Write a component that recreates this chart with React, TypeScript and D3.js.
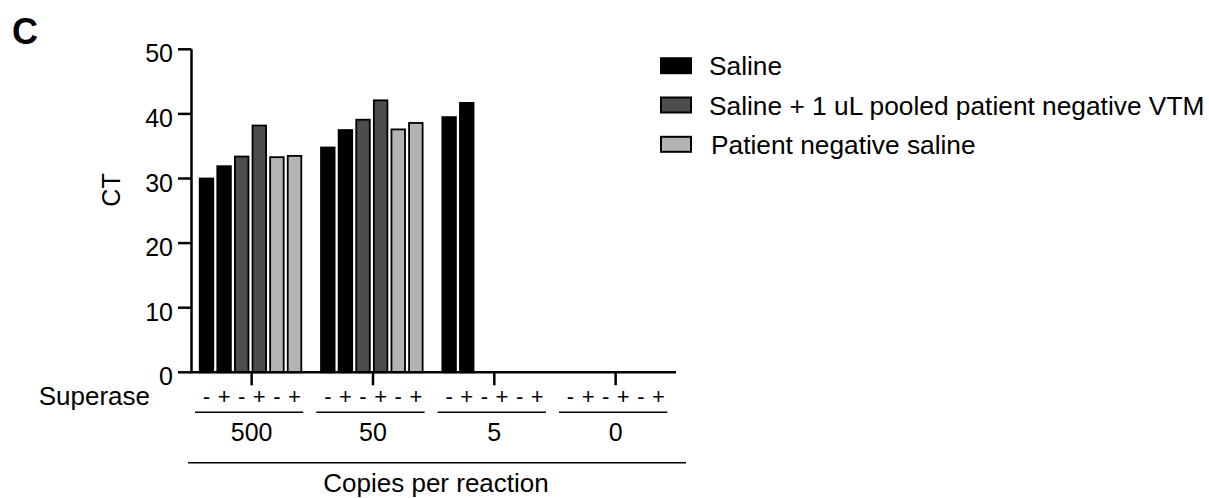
import React from "react";
import * as d3 from "d3";

const categories = ["500", "50", "5", "0"];
const superaseLabels = ["-", "+", "-", "+", "-", "+"];
const salineMinus: (number | null)[] = [30.0, 34.8, 39.5, null];
const salinePlus: (number | null)[] = [31.9, 37.5, 41.7, null];
const vtmMinus: (number | null)[] = [33.4, 39.1, null, null];
const vtmPlus: (number | null)[] = [38.2, 42.1, null, null];
const patMinus: (number | null)[] = [33.3, 37.6, null, null];
const patPlus: (number | null)[] = [33.5, 38.6, null, null];
const seriesNames = ["Saline", "Saline + 1 uL pooled patient negative VTM", "Patient negative saline"];
const yTicks = [0, 10, 20, 30, 40, 50];

const colors = ["#000000", "#4d4d4d", "#b3b3b3"];
const FONT = "'Liberation Sans', Arial, Helvetica, sans-serif";

export default function App() {
  const W = 1209, H = 498;
  const y = d3.scaleLinear().domain([0, 50]).range([372.3, 49.3]);
  const xg = d3.scaleBand<string>().domain(categories).range([191, 676.3]).padding(0);
  const xb = d3.scaleBand<number>().domain([0, 1, 2, 3, 4, 5]).range([8.7, 110.3]).paddingInner(0.23).paddingOuter(0);
  const bars = [
    { vals: salineMinus, s: 0 },
    { vals: salinePlus, s: 0 },
    { vals: vtmMinus, s: 1 },
    { vals: vtmPlus, s: 1 },
    { vals: patMinus, s: 2 },
    { vals: patPlus, s: 2 },
  ];
  const axisX = 191.5;
  const y0 = y(0);

  return (
    <svg width={W} height={H} style={{ position: "absolute", left: 0, top: 0, background: "#fff" }} fontFamily={FONT}>
      <rect x={0} y={0} width={W} height={H} fill="#fff" />
      <text x={12} y={44} fontSize={36} fontWeight="bold">C</text>

      {/* bars */}
      {categories.map((c, gi) =>
        bars.map((b, bi) => {
          const v = b.vals[gi];
          if (v == null) return null;
          const x0 = (xg(c) as number) + (xb(bi) as number);
          return (
            <rect key={c + bi} x={x0} y={y(v)} width={xb.bandwidth()} height={y0 - y(v)}
              fill={colors[b.s]} stroke="#000" strokeWidth={1.8} />
          );
        })
      )}

      {/* y axis */}
      <line x1={axisX} x2={axisX} y1={y(50)} y2={y0} stroke="#000" strokeWidth={2.5} />
      {yTicks.map((t) => (
        <g key={t}>
          <line x1={178} x2={axisX} y1={y(t)} y2={y(t)} stroke="#000" strokeWidth={2.5} />
          <text x={173} y={y(t) + 4} fontSize={25} textAnchor="end" dominantBaseline="central">{t}</text>
        </g>
      ))}
      <text transform={`translate(120,190) rotate(-90)`} fontSize={25} textAnchor="middle">CT</text>

      {/* x axis */}
      <line x1={axisX - 1.2} x2={676} y1={y0} y2={y0} stroke="#000" strokeWidth={2.5} />
      {categories.map((c) => {
        const cx = (xg(c) as number) + xg.bandwidth() / 2;
        const gs = xg(c) as number;
        return (
          <g key={c}>
            <line x1={cx} x2={cx} y1={y0} y2={y0 + 13} stroke="#000" strokeWidth={2.5} />
            {superaseLabels.map((l, i) => (
              <text key={i} x={gs + (xb(i) as number) + xb.bandwidth() / 2} y={396} fontSize={22}
                textAnchor="middle" dominantBaseline="central">{l}</text>
            ))}
            <line x1={gs + 4} x2={gs + 112.3} y1={412.3} y2={412.3} stroke="#000" strokeWidth={1.5} />
            <text x={cx} y={441} fontSize={25} textAnchor="middle">{c}</text>
          </g>
        );
      })}
      <text x={150} y={405} fontSize={26} textAnchor="end">Superase</text>
      <line x1={188} x2={686} y1={462.7} y2={462.7} stroke="#000" strokeWidth={1.5} />
      <text x={436} y={492} fontSize={26} textAnchor="middle">Copies per reaction</text>

      {/* legend */}
      {seriesNames.map((n, i) => {
        const cy = 65.7 + i * 39.3;
        return (
          <g key={n}>
            <rect x={661} y={cy - 7.5} width={30} height={15} fill={colors[i]} stroke="#000" strokeWidth={2} />
            <text x={i === 2 ? 711 : 709} y={cy + 9.5} fontSize={26.3}>{n}</text>
          </g>
        );
      })}
    </svg>
  );
}
